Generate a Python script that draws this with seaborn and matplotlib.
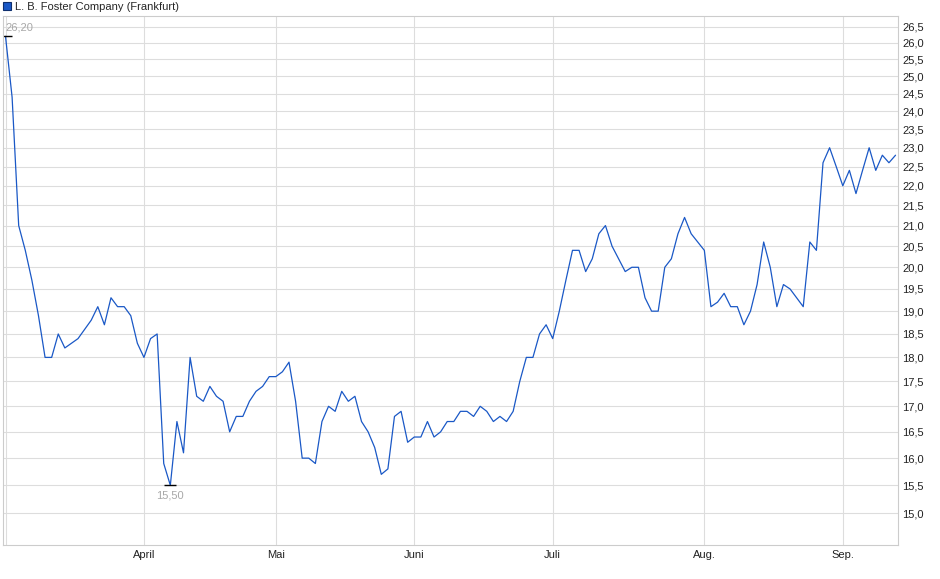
import numpy as np
import pandas as pd
import matplotlib
matplotlib.use("Agg")
import matplotlib.pyplot as plt
import seaborn as sns
from matplotlib.ticker import FixedLocator, FuncFormatter, NullLocator
from matplotlib.lines import Line2D

# --- data ---
title = "L. B. Foster Company (Frankfurt)"
first_day = "2025-03-03"
last_day = "2025-09-11"
holidays = ["2025-04-18", "2025-04-21", "2025-05-01"]

prices = [
    26.2, 24.4, 21.0, 20.4, 19.7, 18.9, 18.0, 18.0, 18.5, 18.2,
    18.3, 18.4, 18.6, 18.8, 19.1, 18.7, 19.3, 19.1, 19.1, 18.9,
    18.3, 18.0, 18.4, 18.5, 15.9, 15.5, 16.7, 16.1, 18.0, 17.2,
    17.1, 17.4, 17.2, 17.1, 16.5, 16.8, 16.8, 17.1, 17.3, 17.4,
    17.6, 17.6, 17.7, 17.9, 17.1, 16.0, 16.0, 15.9, 16.7, 17.0,
    16.9, 17.3, 17.1, 17.2, 16.7, 16.5, 16.2, 15.7, 15.8, 16.8,
    16.9, 16.3, 16.4, 16.4, 16.7, 16.4, 16.5, 16.7, 16.7, 16.9,
    16.9, 16.8, 17.0, 16.9, 16.7, 16.8, 16.7, 16.9, 17.5, 18.0,
    18.0, 18.5, 18.7, 18.4, 19.0, 19.7, 20.4, 20.4, 19.9, 20.2,
    20.8, 21.0, 20.5, 20.2, 19.9, 20.0, 20.0, 19.3, 19.0, 19.0,
    20.0, 20.2, 20.8, 21.2, 20.8, 20.6, 20.4, 19.1, 19.2, 19.4,
    19.1, 19.1, 18.7, 19.0, 19.6, 20.6, 20.0, 19.1, 19.6, 19.5,
    19.3, 19.1, 20.6, 20.4, 22.6, 23.0, 22.5, 22.0, 22.4, 21.8,
    22.4, 23.0, 22.4, 22.8, 22.6, 22.8,
]

month_names = {3: "", 4: "April", 5: "Mai", 6: "Juni", 7: "Juli", 8: "Aug.", 9: "Sep."}
y_ticks = [15.0, 15.5, 16.0, 16.5, 17.0, 17.5, 18.0, 18.5, 19.0, 19.5, 20.0,
           20.5, 21.0, 21.5, 22.0, 22.5, 23.0, 23.5, 24.0, 24.5, 25.0, 25.5,
           26.0, 26.5]

line_color = "#1a58c6"

dates = pd.bdate_range(first_day, last_day, freq="C", holidays=holidays)
df = pd.DataFrame({"date": dates, "price": prices})
df["idx"] = np.arange(len(df))

month_first = df.groupby(df["date"].dt.month)["idx"].first()

sns.set_style("white")
plt.rcParams["font.family"] = ["Liberation Sans", "DejaVu Sans"]

fig = plt.figure(figsize=(9.4, 5.79), dpi=100)
ax = fig.add_axes([3 / 940, 33.7 / 579, (898.3 - 3) / 940, (545.3 - 16) / 579])

sns.lineplot(data=df, x="idx", y="price", ax=ax, color=line_color, lw=0.9)

ax.set_yscale("log")
ax.set_ylim(14.45, 26.83)
ax.set_xlim(-0.38, len(df) - 1 + 0.42)

ax.yaxis.set_major_locator(FixedLocator(y_ticks))
ax.yaxis.set_minor_locator(NullLocator())
ax.yaxis.set_major_formatter(FuncFormatter(lambda v, _: f"{v:.1f}".replace(".", ",")))
ax.yaxis.tick_right()
ax.tick_params(axis="y", length=0, pad=3, labelsize=8, labelcolor="#222222")

ax.set_xticks(month_first.values)
ax.set_xticklabels([month_names[m] for m in month_first.index])
ax.tick_params(axis="x", length=3, width=0.8, color="#cccccc", pad=0.3,
               labelsize=8, labelcolor="#222222")

ax.grid(True, color="#dddddd", lw=0.8)
for s in ax.spines.values():
    s.set_color("#cccccc")
    s.set_linewidth(0.8)
ax.set_xlabel("")
ax.set_ylabel("")

# high / low marks
imax = df["price"].idxmax()
imin = df["price"].idxmin()
for i, off, ha in [(imax, 6.3, "left"), (imin, -7.4, "center")]:
    v = df.loc[i, "price"]
    ax.plot(i, v, marker="_", ms=8, mew=1, color="black")
    ax.annotate(f"{v:.2f}".replace(".", ","), (i, v), xytext=(0, off),
                textcoords="offset points", ha=ha, va="center",
                fontsize=8, color="#a8a8a8")

handle = Line2D([], [], marker="s", linestyle="none", markersize=5.5,
                markerfacecolor=line_color, markeredgecolor="#0f2f6e", mew=0.8)
fig.legend(handles=[handle], labels=[title], loc="upper left",
           bbox_to_anchor=(0.002, 1.0), frameon=False, fontsize=8,
           handlelength=0.6, handletextpad=0.4, borderaxespad=0.0,
           borderpad=0.15)

fig.savefig("out.png", dpi=100)
